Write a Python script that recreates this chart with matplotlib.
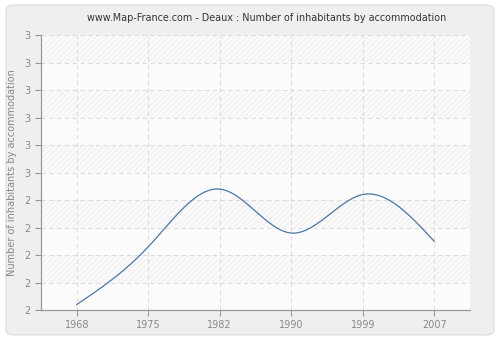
import numpy as np
import matplotlib
matplotlib.use("Agg")
import matplotlib.pyplot as plt
from matplotlib.patches import FancyBboxPatch, Rectangle

years = ["1968", "1975", "1982", "1990", "1999", "2007"]
values = [2.02, 2.23, 2.44, 2.28, 2.42, 2.25]
y_ticks = [2.0, 2.1, 2.2, 2.3, 2.4, 2.5, 2.6, 2.7, 2.8, 2.9, 3.0]
y_tick_labels = ["2", "2", "2", "2", "2", "3", "3", "3", "3", "3", "3"]
title = "www.Map-France.com - Deaux : Number of inhabitants by accommodation"
ylabel = "Number of inhabitants by accommodation"


def natural_spline(x, y, xs):
    x = np.asarray(x, float); y = np.asarray(y, float)
    n = len(x)
    h = np.diff(x)
    A = np.zeros((n, n)); b = np.zeros(n)
    A[0, 0] = 1; A[-1, -1] = 1
    for i in range(1, n - 1):
        A[i, i - 1] = h[i - 1]
        A[i, i] = 2 * (h[i - 1] + h[i])
        A[i, i + 1] = h[i]
        b[i] = 3 * ((y[i + 1] - y[i]) / h[i] - (y[i] - y[i - 1]) / h[i - 1])
    c = np.linalg.solve(A, b)
    out = np.empty_like(xs)
    for k, xv in enumerate(xs):
        i = min(max(np.searchsorted(x, xv) - 1, 0), n - 2)
        dx = xv - x[i]
        bi = (y[i + 1] - y[i]) / h[i] - h[i] * (2 * c[i] + c[i + 1]) / 3
        di = (c[i + 1] - c[i]) / (3 * h[i])
        out[k] = y[i] + bi * dx + c[i] * dx ** 2 + di * dx ** 3
    return out


plt.rcParams["hatch.linewidth"] = 0.5
fig = plt.figure(figsize=(5, 3.4), dpi=100)
fig.patch.set_facecolor("white")
bg = FancyBboxPatch((0.012, 0.015), 0.976, 0.97, boxstyle="round,pad=0,rounding_size=0.015",
                    transform=fig.transFigure, facecolor="#efefef", edgecolor="#dcdcdc",
                    linewidth=0.8, zorder=-10)
fig.patches.append(bg)

ax = fig.add_axes([0.082, 0.088, 0.858, 0.809])
ax.set_zorder(5)
ax.set_facecolor("#fcfcfc")
xpos = np.arange(len(years))
ax.set_xlim(-0.5, len(years) - 0.5)
ax.set_ylim(y_ticks[0], y_ticks[-1])

# hatched background bands
for i in range(len(y_ticks) - 1):
    if (len(y_ticks) - 2 - i) % 2 == 0:
        ax.add_patch(Rectangle((-0.5, y_ticks[i]), len(years), y_ticks[i + 1] - y_ticks[i],
                               facecolor="#fafafa", edgecolor="#ececec", hatch="//////",
                               linewidth=0, zorder=0))

ax.grid(True, color="#dddddd", linestyle=(0, (4, 3)), linewidth=0.8, zorder=1)
ax.set_axisbelow(True)

xs = np.linspace(0, len(years) - 1, 300)
ax.plot(xs, natural_spline(xpos, values, xs), color="#4a76a8", linewidth=0.9, zorder=3)

ax.set_xticks(xpos)
ax.set_xticklabels(years)
ax.set_yticks(y_ticks)
ax.set_yticklabels(y_tick_labels)
for s in ["top", "right"]:
    ax.spines[s].set_visible(False)
for s in ["left", "bottom"]:
    ax.spines[s].set_color("#999999")
    ax.spines[s].set_linewidth(0.9)
ax.tick_params(colors="#999999", labelcolor="#888888", labelsize=7, length=4, width=0.8)
ax.set_ylabel(ylabel, color="#888888", fontsize=7, labelpad=5)
fig.text(0.533, 0.947, title, ha="center", va="center", fontsize=6.9, color="#333333")

fig.savefig("out.png", dpi=100, facecolor=fig.get_facecolor())
